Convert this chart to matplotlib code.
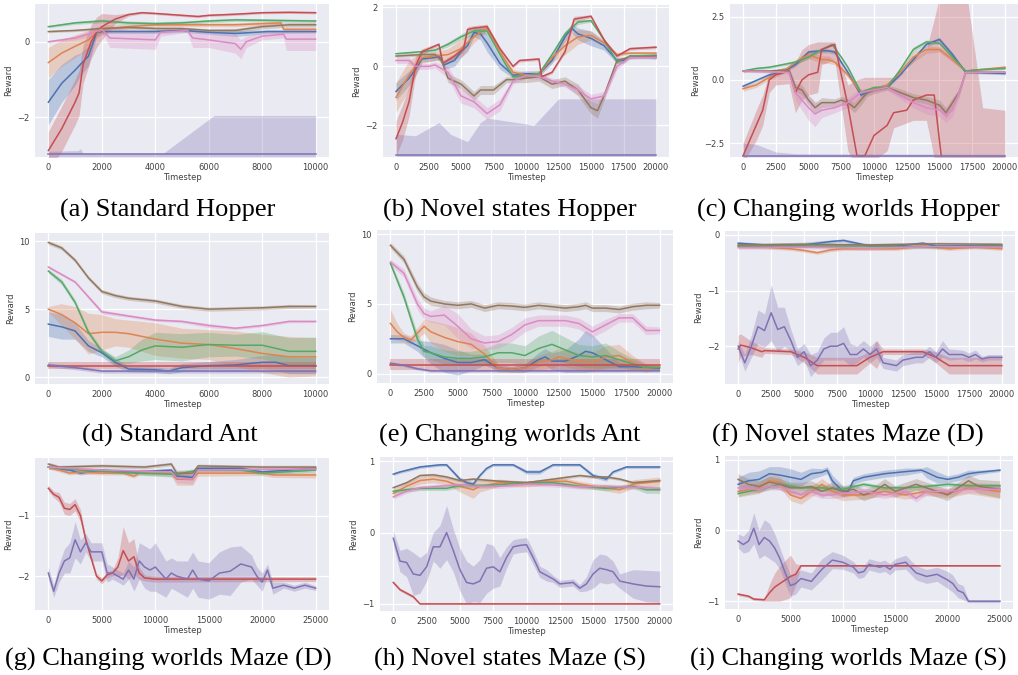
import numpy as np
import matplotlib
matplotlib.use("Agg")
from matplotlib import pyplot as plt

# seaborn "deep" colours: blue, orange, green, red, purple, brown, pink
colors = ["#4C72B0", "#DD8452", "#55A868", "#C44E52", "#8172B3", "#937860", "#DA8BC3"]

# every series: (timestep, reward, halfwidth) or (timestep, reward, down, up)

# ---- (a) Standard Hopper
a_blue = [(0, -1.6, 0.6), (500, -1.1, 0.5), (1000, -0.75, 0.4), (1200, -0.6, 0.3), (1500, -0.38, 0.25),
          (1800, 0.24, 0.1), (2000, 0.27, 0.05), (4000, 0.27, 0.05), (5000, 0.3, 0.05), (6000, 0.25, 0.05),
          (7000, 0.22, 0.08), (8200, 0.27, 0.05), (10000, 0.27, 0.04)]
a_orange = [(0, -0.55, 0.4), (500, -0.3, 0.35), (1000, -0.12, 0.3), (1500, 0.05, 0.25), (1800, 0.25, 0.15),
            (2200, 0.35, 0.1), (3000, 0.4, 0.06), (4000, 0.45, 0.05), (6000, 0.45, 0.05), (7000, 0.45, 0.05),
            (8000, 0.48, 0.05), (8700, 0.5, 0.05), (8800, 0.33, 0.03), (10000, 0.33, 0.03)]
a_green = [(0, 0.4, 0.03), (1000, 0.5, 0.04), (2000, 0.55, 0.05), (3000, 0.5, 0.05), (4000, 0.48, 0.05),
           (5000, 0.5, 0.05), (6000, 0.55, 0.04), (7000, 0.58, 0.04), (8000, 0.57, 0.04), (10000, 0.55, 0.04)]
a_red = [(0, -2.88, 0.5), (500, -2.3, 0.6), (1000, -1.6, 0.6), (1150, -1.35, 0.6), (1300, -0.6, 0.5),
         (1600, 0.0, 0.45), (1800, 0.25, 0.4), (2000, 0.4, 0.35), (2500, 0.6, 0.12), (3000, 0.72, 0.04),
         (3500, 0.77, 0.03), (4000, 0.75, 0.03), (5000, 0.7, 0.03), (5600, 0.67, 0.03), (6000, 0.7, 0.03),
         (7000, 0.73, 0.03), (8000, 0.77, 0.03), (9000, 0.78, 0.03), (10000, 0.77, 0.03)]
a_purple = [(0, -2.98, 0.07, 0.08), (1100, -2.98, 0.07, 0.1), (1200, -2.98, 0.07, 0.15), (1300, -2.98, 0.07, 0.03),
            (4300, -2.98, 0.07, 0.03), (6200, -2.98, 0.07, 1.03), (10000, -2.98, 0.07, 1.03)]
a_brown = [(0, 0.27, 0.03), (1000, 0.3, 0.03), (2000, 0.35, 0.04), (3000, 0.38, 0.04), (4000, 0.35, 0.05),
           (5000, 0.35, 0.04), (6000, 0.3, 0.04), (7000, 0.3, 0.05), (8000, 0.4, 0.06), (9000, 0.45, 0.06),
           (10000, 0.45, 0.06)]
a_pink = [(0, 0.0, 0.03), (1000, 0.1, 0.05), (1500, 0.2, 0.08), (2000, 0.33, 0.05), (2300, 0.1, 0.25),
          (3000, 0.08, 0.25), (4000, 0.05, 0.25), (4200, 0.25, 0.1), (5200, 0.3, 0.05), (5400, 0.1, 0.25),
          (6000, 0.05, 0.2), (7000, -0.05, 0.25), (7200, -0.2, 0.25), (7400, 0.0, 0.15), (8000, 0.15, 0.1),
          (8800, 0.2, 0.1), (8900, 0.07, 0.3), (10000, 0.07, 0.3)]

# ---- (b) Novel states Hopper
b_blue = [(0, -0.85, 0.3), (1000, -0.4, 0.25), (1500, -0.1, 0.2), (2000, 0.25, 0.1), (3000, 0.3, 0.1),
          (3300, 0.35, 0.1), (3700, 0.05, 0.15), (4500, 0.2, 0.2), (5000, 0.5, 0.2), (5500, 0.7, 0.2),
          (6000, 1.15, 0.15), (6500, 1.1, 0.2), (7000, 0.8, 0.3), (8000, 0.1, 0.2), (8500, -0.1, 0.15),
          (9000, -0.3, 0.1), (10000, -0.25, 0.1), (11000, -0.25, 0.1), (12000, 0.2, 0.1), (13000, 1.0, 0.15),
          (13500, 1.3, 0.15), (14000, 1.1, 0.2), (15000, 0.95, 0.25), (16000, 0.7, 0.15), (17000, 0.2, 0.1),
          (17500, 0.2, 0.1), (18000, 0.35, 0.05), (20000, 0.3, 0.05)]
b_orange = [(0, -1.05, 0.5), (1000, -0.3, 0.5), (1500, 0.0, 0.35), (2000, 0.3, 0.2), (3000, 0.35, 0.15),
            (4000, 0.4, 0.2), (5000, 0.6, 0.3), (6000, 1.0, 0.2), (7000, 1.3, 0.1), (8000, 0.5, 0.1),
            (9000, -0.2, 0.1), (10000, -0.3, 0.1), (11000, -0.25, 0.1), (12000, 0.3, 0.15), (13000, 0.7, 0.3),
            (14000, 1.0, 0.25), (15000, 1.05, 0.15), (16000, 0.8, 0.1), (17000, 0.4, 0.05), (18000, 0.45, 0.05),
            (20000, 0.45, 0.05)]
b_green = [(0, 0.43, 0.03), (2000, 0.5, 0.04), (3000, 0.55, 0.05), (4000, 0.75, 0.08), (5000, 1.0, 0.1),
           (6000, 1.2, 0.15), (7000, 1.2, 0.1), (8000, 0.4, 0.08), (9000, -0.35, 0.05), (10000, -0.3, 0.05),
           (11000, -0.25, 0.05), (12000, 0.4, 0.05), (13000, 1.1, 0.1), (14000, 1.5, 0.08), (15000, 1.55, 0.05),
           (16000, 0.9, 0.05), (17000, 0.15, 0.05), (17500, 0.25, 0.05), (18000, 0.35, 0.03), (20000, 0.38, 0.03)]
b_red = [(0, -2.45, 0.6), (500, -1.9, 0.6), (1000, -1.2, 0.5), (1500, 0.0, 0.3), (2000, 0.5, 0.1),
         (3300, 0.75, 0.05), (3600, 0.1, 0.1), (4500, 0.35, 0.1), (5200, 0.6, 0.1), (5500, 1.25, 0.1),
         (6000, 1.3, 0.08), (7000, 1.35, 0.08), (8000, 0.6, 0.05), (9000, 0.0, 0.05), (9500, 0.2, 0.05),
         (11000, 0.25, 0.05), (11200, -0.35, 0.05), (12000, -0.2, 0.05), (13000, 0.5, 0.05), (13700, 1.6, 0.1),
         (15000, 1.7, 0.05), (16000, 0.9, 0.05), (17000, 0.35, 0.05), (18000, 0.6, 0.05), (20000, 0.65, 0.05)]
b_purple = [(0, -3.0, 0.05, 0.7), (1500, -3.0, 0.05, 0.65), (3300, -3.0, 0.05, 1.1), (4200, -3.0, 0.05, 0.7),
            (4700, -3.0, 0.05, 0.6), (5500, -3.0, 0.05, 0.45), (6500, -3.0, 0.05, 1.1), (7000, -3.0, 0.05, 1.25),
            (10000, -3.0, 0.05, 1.05), (10600, -3.0, 0.05, 1.0), (12500, -3.0, 0.05, 1.9), (20000, -3.0, 0.05, 1.9)]
b_brown = [(0, 0.35, 0.05), (2000, 0.4, 0.05), (3000, 0.4, 0.08), (3500, 0.2, 0.1), (4000, -0.4, 0.15),
           (5000, -0.6, 0.15), (6000, -1.0, 0.15), (6500, -0.8, 0.15), (7500, -0.8, 0.15), (8500, -0.45, 0.1),
           (9000, -0.45, 0.1), (10000, -0.4, 0.15), (11000, -0.35, 0.15), (12000, -0.6, 0.15), (13000, -0.5, 0.15),
           (14000, -0.8, 0.2), (15000, -1.4, 0.2), (15500, -1.5, 0.25), (16000, -1.0, 0.15), (17000, 0.2, 0.1),
           (18000, 0.3, 0.05), (20000, 0.35, 0.05)]
b_pink = [(0, 0.2, 0.1), (1000, 0.2, 0.1), (1500, 0.0, 0.1), (2500, 0.0, 0.1), (3000, 0.05, 0.1),
          (4000, -0.2, 0.2), (5000, -1.0, 0.25), (6000, -1.2, 0.2), (7000, -1.6, 0.2), (8000, -1.3, 0.2),
          (9000, -0.5, 0.1), (10000, -0.3, 0.1), (11000, -0.35, 0.1), (12000, -0.5, 0.1), (13000, -0.6, 0.1),
          (14000, -0.8, 0.15), (15000, -1.1, 0.15), (16000, -1.0, 0.15), (17000, 0.0, 0.1), (18000, 0.3, 0.05),
          (20000, 0.3, 0.05)]

# ---- (c) Changing worlds Hopper
c_blue = [(0, -0.25, 0.05), (2000, 0.2, 0.05), (3000, 0.3, 0.05), (4000, 0.6, 0.08), (5000, 1.1, 0.08),
          (6000, 1.15, 0.08), (6500, 1.15, 0.08), (7000, 1.1, 0.08), (8000, 0.3, 0.08), (9000, -0.6, 0.08),
          (10000, -0.4, 0.05), (11000, -0.3, 0.05), (12000, 0.2, 0.05), (13000, 0.8, 0.08), (14000, 1.4, 0.1),
          (15000, 1.6, 0.08), (16000, 1.0, 0.08), (17000, 0.3, 0.05), (17500, 0.3, 0.05), (20000, 0.25, 0.05)]
c_orange = [(0, -0.35, 0.1), (1000, -0.2, 0.1), (2000, 0.1, 0.1), (3000, 0.3, 0.08), (4000, 0.7, 0.1),
            (5000, 1.0, 0.15), (6000, 0.8, 0.15), (6500, 0.8, 0.15), (7000, 0.7, 0.1), (8000, 0.2, 0.1),
            (9000, -0.5, 0.1), (10000, -0.35, 0.05), (11000, -0.2, 0.05), (12000, 0.3, 0.1), (13000, 0.9, 0.2),
            (14000, 1.2, 0.15), (15000, 1.2, 0.1), (16000, 0.8, 0.1), (17000, 0.35, 0.05), (18000, 0.4, 0.05),
            (20000, 0.5, 0.05)]
c_green = [(0, 0.35, 0.05), (1000, 0.45, 0.05), (2000, 0.5, 0.05), (3000, 0.6, 0.05), (4000, 0.7, 0.08),
           (5000, 0.9, 0.08), (6000, 1.2, 0.08), (6800, 1.4, 0.05), (7500, 0.9, 0.05), (8000, 0.5, 0.05),
           (9000, -0.5, 0.08), (10000, -0.3, 0.05), (11000, -0.3, 0.05), (12000, 0.4, 0.08), (13000, 1.2, 0.1),
           (14000, 1.5, 0.08), (15000, 1.45, 0.05), (16000, 0.9, 0.05), (17000, 0.35, 0.05), (18000, 0.4, 0.05),
           (20000, 0.45, 0.05)]
c_red = [(0, -3.0, 0.3, 0.5), (1000, -1.8, 0.6, 0.6), (1500, -1.2, 0.6, 0.6), (2000, 0.0, 0.5, 0.3),
         (2500, 0.2, 0.4, 0.2), (3500, 0.35, 0.5, 0.2), (4000, -0.5, 0.8, 1.2), (4500, 0.0, 0.8, 1.2),
         (5000, 0.2, 0.8, 1.2), (5700, 0.3, 0.8, 1.2), (6000, 1.2, 0.6, 0.3), (7000, 1.4, 0.6, 0.1),
         (8000, -1.0, 1.8, 0.8), (8700, -3.0, 0.5, 3.0), (9300, -3.0, 0.5, 3.1), (10000, -2.2, 1.0, 2.3),
         (11000, -1.8, 1.0, 1.9), (11500, -1.3, 0.6, 1.4), (12500, -1.2, 0.5, 1.6), (13000, -0.8, 0.8, 1.6),
         (14000, -0.6, 1.0, 1.8), (14600, -0.6, 2.5, 3.0), (15200, -3.3, 0.5, 7.0), (17000, -3.3, 0.5, 7.0),
         (18300, -3.3, 0.5, 2.2), (20000, -3.3, 0.5, 2.1)]
c_purple = [(0, -3.0, 0.05, 0.5), (1000, -3.0, 0.05, 0.45), (2500, -3.0, 0.05, 0.15), (4000, -3.0, 0.05, 0.08),
            (20000, -3.0, 0.05, 0.06)]
c_brown = [(0, 0.35, 0.05), (2000, 0.35, 0.05), (3500, 0.4, 0.1), (4000, -0.3, 0.15), (4500, -0.4, 0.2),
           (5000, -0.8, 0.2), (5500, -1.1, 0.2), (6000, -0.9, 0.2), (7000, -0.9, 0.15), (7500, -0.8, 0.15),
           (8000, -0.9, 0.15), (8500, -1.1, 0.2), (9000, -0.8, 0.2), (9500, -0.5, 0.15), (10000, -0.4, 0.15),
           (11000, -0.3, 0.1), (12000, -0.5, 0.15), (13000, -0.7, 0.15), (14000, -0.8, 0.15), (15000, -1.0, 0.2),
           (15500, -1.3, 0.2), (16000, -0.9, 0.2), (16500, -0.5, 0.15), (17000, 0.3, 0.05), (20000, 0.3, 0.05)]
c_pink = [(0, 0.35, 0.05), (3000, 0.3, 0.05), (3500, 0.3, 0.1), (4000, -0.5, 0.3), (5000, -1.1, 0.5),
          (5500, -1.35, 0.5), (6000, -1.2, 0.3), (7000, -1.1, 0.2), (8000, -0.9, 0.2), (8500, -0.7, 0.2),
          (9000, -0.5, 0.15), (10000, -0.4, 0.1), (11000, -0.3, 0.1), (12000, -0.6, 0.15), (13000, -0.9, 0.2),
          (14000, -1.1, 0.25), (15000, -1.2, 0.25), (15500, -1.4, 0.3), (16000, -1.2, 0.25), (16500, -0.5, 0.2),
          (17000, 0.3, 0.05), (20000, 0.3, 0.05)]

# ---- (d) Standard Ant
d_blue = [(0, 3.9, 0.9), (500, 3.7, 0.9), (1000, 3.4, 0.6), (1500, 2.3, 0.4), (2000, 1.8, 0.3),
          (2500, 1.1, 0.3), (3000, 0.6, 0.2), (4000, 0.55, 0.2), (4500, 0.45, 0.2), (5000, 0.7, 0.3),
          (6000, 0.85, 0.3), (7000, 0.9, 0.4), (8000, 1.1, 0.5), (8500, 1.1, 0.6), (9000, 0.85, 0.6),
          (10000, 0.85, 0.6)]
d_orange = [(0, 5.0, 0.2), (500, 4.6, 0.8), (1000, 4.0, 1.2), (1500, 3.2, 1.5), (2000, 3.3, 1.3),
            (2500, 3.3, 1.0), (3000, 3.2, 1.0), (4000, 2.8, 1.2), (5000, 2.5, 1.1), (6000, 2.4, 1.1),
            (7000, 2.1, 1.3), (8000, 1.75, 1.4), (9000, 1.5, 1.5), (10000, 1.5, 1.4)]
d_green = [(0, 7.8, 0.15), (500, 7.0, 0.2), (1000, 5.5, 0.2), (1500, 3.3, 0.2), (2000, 1.9, 0.2),
           (2500, 1.2, 0.3), (3000, 1.5, 0.5), (3500, 2.0, 0.8), (4000, 2.3, 1.0), (5000, 2.2, 1.0),
           (6000, 2.4, 0.9), (7000, 2.35, 0.8), (8000, 2.35, 1.0), (9000, 1.9, 1.0), (10000, 1.9, 1.05)]
d_red = [(0, 0.85, 0.25), (10000, 0.85, 0.25)]
d_purple = [(0, 0.9, 0.15), (1000, 0.7, 0.15), (2000, 0.45, 0.15), (10000, 0.45, 0.15)]
d_brown = [(0, 9.9, 0.15), (500, 9.5, 0.15), (1000, 8.6, 0.15), (1500, 7.3, 0.15), (2000, 6.3, 0.15),
           (2500, 6.0, 0.15), (3000, 5.8, 0.15), (4000, 5.6, 0.15), (5000, 5.2, 0.15), (6000, 5.0, 0.15),
           (7000, 5.05, 0.15), (8000, 5.1, 0.15), (9000, 5.2, 0.15), (10000, 5.2, 0.12)]
d_pink = [(0, 8.1, 0.1), (1000, 7.0, 0.1), (2000, 4.8, 0.15), (3000, 4.5, 0.1), (4000, 4.2, 0.1),
          (5000, 4.1, 0.1), (6000, 3.8, 0.15), (7000, 3.6, 0.1), (8000, 3.8, 0.1), (9000, 4.1, 0.1),
          (10000, 4.1, 0.08)]

# ---- (e) Changing worlds Ant
e_blue = [(0, 2.5, 0.3), (1000, 2.5, 0.3), (2000, 2.0, 0.4), (3000, 1.5, 0.8), (4000, 1.1, 1.0),
          (5000, 0.8, 0.9), (6000, 0.8, 0.6), (7000, 1.0, 0.4), (8000, 0.4, 0.2), (9000, 0.3, 0.2),
          (10000, 0.4, 0.3), (11000, 1.0, 0.5), (11500, 1.2, 0.6), (12000, 0.9, 0.6), (13000, 0.9, 0.8),
          (14000, 1.3, 1.2), (14500, 1.6, 1.5), (15000, 1.5, 1.3), (16000, 1.0, 0.8), (17000, 0.5, 0.3),
          (18000, 0.5, 0.2), (20000, 0.4, 0.15)]
e_orange = [(0, 3.6, 1.0), (500, 3.0, 0.6), (1000, 2.6, 0.3), (1500, 2.4, 0.3), (2000, 2.9, 0.4),
            (2500, 3.4, 0.5), (3000, 3.0, 0.8), (4000, 2.6, 1.0), (5000, 2.3, 1.0), (6000, 2.1, 0.8),
            (7000, 1.4, 0.6), (8000, 0.4, 0.3), (9000, 0.3, 0.2), (10000, 0.4, 0.3), (11000, 0.8, 0.5),
            (12000, 1.0, 0.6), (12500, 1.2, 0.6), (13000, 1.1, 0.6), (14000, 0.9, 0.6), (15000, 0.8, 0.7),
            (16000, 1.2, 0.8), (17000, 1.3, 0.8), (18000, 0.8, 0.5), (19000, 0.4, 0.3), (20000, 0.5, 0.2)]
e_green = [(0, 7.9, 0.2), (1000, 5.5, 0.3), (2000, 2.5, 0.4), (2500, 1.6, 0.4), (3000, 1.5, 0.5),
           (4000, 1.2, 0.5), (5000, 1.1, 0.5), (6000, 1.1, 0.5), (7000, 1.2, 0.6), (8000, 1.5, 0.7),
           (9000, 1.5, 0.7), (10000, 1.3, 0.7), (11000, 1.8, 0.9), (12000, 2.1, 1.0), (13000, 1.7, 0.9),
           (14000, 1.3, 0.8), (15000, 1.2, 0.8), (16000, 1.3, 0.9), (17000, 1.0, 0.6), (18000, 0.7, 0.4),
           (19000, 0.45, 0.2), (20000, 0.45, 0.15)]
e_red = [(0, 0.65, 0.4), (20000, 0.65, 0.4)]
e_purple = [(0, 0.75, 0.1), (1000, 0.6, 0.1), (2000, 0.35, 0.1), (3000, 0.2, 0.1), (20000, 0.2, 0.1)]
e_brown = [(0, 9.2, 0.2), (1000, 8.2, 0.25), (2000, 6.2, 0.3), (2500, 5.5, 0.3), (3000, 5.2, 0.3),
           (4000, 5.0, 0.25), (5000, 4.9, 0.25), (6000, 5.0, 0.25), (7000, 4.7, 0.25), (8000, 4.9, 0.25),
           (9000, 4.85, 0.25), (10000, 4.75, 0.25), (11000, 4.9, 0.25), (12000, 4.8, 0.25), (13000, 4.7, 0.25),
           (14000, 4.8, 0.25), (14500, 4.9, 0.25), (15000, 4.7, 0.25), (16000, 4.7, 0.25), (17000, 4.6, 0.25),
           (18000, 4.8, 0.25), (19000, 4.9, 0.25), (20000, 4.9, 0.2)]
e_pink = [(0, 8.0, 0.2), (1000, 7.2, 0.3), (2000, 5.0, 0.4), (2500, 4.3, 0.4), (3000, 4.1, 0.4),
          (4000, 4.2, 0.7), (5000, 3.4, 0.9), (6000, 2.5, 0.7), (7000, 2.2, 0.5), (8000, 2.3, 0.5),
          (9000, 2.8, 0.5), (10000, 3.5, 0.5), (11000, 3.8, 0.4), (12000, 3.8, 0.4), (13000, 3.8, 0.4),
          (14000, 3.6, 0.4), (15000, 3.0, 0.4), (16000, 3.5, 0.4), (17000, 4.0, 0.3), (18000, 4.0, 0.3),
          (19000, 3.1, 0.3), (20000, 3.1, 0.25)]

# ---- (f) Novel states Maze (D)
f_blue = [(0, -0.15, 0.03), (2000, -0.18, 0.03), (5000, -0.18, 0.05), (7000, -0.12, 0.03), (8000, -0.1, 0.03),
          (9000, -0.15, 0.03), (10000, -0.2, 0.03), (12000, -0.2, 0.03), (14000, -0.15, 0.03), (15000, -0.2, 0.03),
          (17000, -0.2, 0.03), (20000, -0.2, 0.03)]
f_orange = [(0, -0.2, 0.03), (2000, -0.22, 0.03), (4000, -0.25, 0.03), (5000, -0.28, 0.03), (6000, -0.32, 0.03),
            (7000, -0.27, 0.03), (8000, -0.25, 0.03), (12000, -0.25, 0.03), (14000, -0.2, 0.03),
            (16000, -0.25, 0.03), (18000, -0.22, 0.03), (20000, -0.25, 0.03)]
f_green = [(0, -0.2, 0.03), (5000, -0.2, 0.03), (10000, -0.2, 0.03), (15000, -0.22, 0.03), (20000, -0.2, 0.03)]
f_red = [(0, -2.05, 0.25), (200, -1.98, 0.2), (1000, -2.03, 0.12), (1800, -2.1, 0.1), (2000, -2.08, 0.05),
         (4000, -2.1, 0.05), (5000, -2.2, 0.1), (6000, -2.35, 0.15), (9000, -2.35, 0.15), (10000, -2.2, 0.1),
         (10500, -2.15, 0.25), (11000, -2.1, 0.05), (14000, -2.1, 0.05), (15000, -2.2, 0.1), (16000, -2.35, 0.15),
         (20000, -2.35, 0.15)]
f_purple = [(0, -2.0, 0.1), (500, -2.3, 0.15), (1000, -2.0, 0.2), (1500, -1.65, 0.3), (2000, -1.72, 0.3),
            (2500, -1.4, 0.5), (3000, -1.7, 0.4), (3500, -1.65, 0.35), (4000, -1.9, 0.2), (4500, -2.2, 0.15),
            (5000, -2.1, 0.15), (5500, -2.35, 0.2), (6000, -2.25, 0.15), (6500, -2.05, 0.2), (7000, -2.0, 0.25),
            (7500, -2.0, 0.25), (8000, -1.95, 0.3), (8500, -2.15, 0.2), (9000, -2.15, 0.15), (9500, -2.05, 0.15),
            (10000, -2.15, 0.15), (10500, -2.05, 0.15), (11000, -2.3, 0.1), (12000, -2.35, 0.1),
            (12500, -2.25, 0.1), (13500, -2.2, 0.1), (14000, -2.2, 0.1), (14500, -2.1, 0.1), (15000, -2.2, 0.1),
            (15500, -2.05, 0.15), (16000, -2.15, 0.1), (17000, -2.15, 0.08), (17500, -2.2, 0.08),
            (18000, -2.15, 0.08), (18500, -2.23, 0.05), (19000, -2.2, 0.05), (20000, -2.2, 0.05)]
f_brown = [(0, -0.18, 0.03), (5000, -0.17, 0.03), (10000, -0.18, 0.03), (15000, -0.16, 0.03), (20000, -0.17, 0.03)]
f_pink = [(0, -0.23, 0.03), (5000, -0.22, 0.03), (10000, -0.24, 0.03), (15000, -0.21, 0.03), (20000, -0.22, 0.03)]

# ---- (g) Changing worlds Maze (D)
g_blue = [(0, -0.2, 0.03), (2000, -0.25, 0.03), (3000, -0.3, 0.03), (5000, -0.25, 0.03), (8000, -0.28, 0.03),
          (11500, -0.25, 0.03), (12000, -0.35, 0.05), (13500, -0.37, 0.05), (14000, -0.22, 0.03),
          (18000, -0.22, 0.03), (20000, -0.28, 0.03), (25000, -0.22, 0.03)]
g_orange = [(0, -0.2, 0.03), (2000, -0.3, 0.03), (3000, -0.28, 0.03), (5000, -0.3, 0.03), (7000, -0.3, 0.03),
            (8000, -0.35, 0.03), (8500, -0.3, 0.03), (11500, -0.3, 0.05), (12000, -0.4, 0.1), (13500, -0.4, 0.1),
            (14000, -0.3, 0.05), (20000, -0.3, 0.04), (21000, -0.33, 0.04), (25000, -0.33, 0.05)]
g_green = [(0, -0.2, 0.03), (3000, -0.25, 0.03), (8000, -0.3, 0.03), (12000, -0.32, 0.05), (14000, -0.25, 0.03),
           (18000, -0.25, 0.03), (20000, -0.3, 0.03), (25000, -0.25, 0.03)]
g_red = [(0, -0.55, 0.05), (500, -0.65, 0.05), (1000, -0.7, 0.08), (1500, -0.88, 0.1), (2000, -0.9, 0.1),
         (2500, -0.82, 0.1), (3000, -1.0, 0.1), (3500, -1.4, 0.05), (4000, -1.7, 0.05), (4500, -2.0, 0.05),
         (5000, -2.08, 0.05), (5500, -1.98, 0.05), (6000, -1.95, 0.05), (6500, -1.85, 0.15), (7000, -1.58, 0.4),
         (7500, -1.75, 0.3), (8000, -1.68, 0.3), (8500, -1.95, 0.1), (9000, -2.03, 0.05), (10000, -2.05, 0.05),
         (25000, -2.05, 0.04)]
g_purple = [(0, -1.95, 0.1), (500, -2.25, 0.1), (1000, -1.95, 0.15), (1500, -1.75, 0.2), (2000, -1.7, 0.25),
            (2500, -1.4, 0.3), (3000, -1.6, 0.2), (3500, -1.45, 0.15), (4000, -1.6, 0.15), (5000, -1.6, 0.15),
            (5500, -1.95, 0.15), (6000, -1.95, 0.1), (7000, -2.05, 0.1), (7500, -1.9, 0.15), (8000, -2.05, 0.2),
            (8500, -1.75, 0.3), (9000, -1.85, 0.35), (9500, -1.9, 0.35), (10000, -1.85, 0.4), (11000, -2.05, 0.3),
            (11500, -1.95, 0.25), (12000, -2.0, 0.25), (13000, -2.05, 0.3), (13500, -1.9, 0.3), (14000, -2.05, 0.3),
            (15000, -2.08, 0.3), (16000, -1.95, 0.35), (17000, -1.92, 0.4), (18000, -1.8, 0.3), (19000, -1.85, 0.2),
            (19500, -2.0, 0.15), (20000, -2.1, 0.15), (20500, -1.9, 0.1), (21000, -2.2, 0.1), (22000, -2.15, 0.05),
            (23000, -2.2, 0.05), (24000, -2.15, 0.05), (25000, -2.2, 0.04)]
g_brown = [(0, -0.15, 0.03), (1000, -0.2, 0.03), (5000, -0.18, 0.03), (9000, -0.2, 0.03), (11500, -0.15, 0.03),
           (12000, -0.3, 0.05), (13500, -0.3, 0.05), (14000, -0.18, 0.03), (20000, -0.2, 0.03), (25000, -0.2, 0.03)]
g_pink = [(0, -0.2, 0.03), (5000, -0.25, 0.03), (11500, -0.28, 0.03), (12000, -0.38, 0.08), (13500, -0.4, 0.08),
          (14000, -0.25, 0.03), (25000, -0.23, 0.03)]

# ---- (h) Novel states Maze (S)
h_blue = [(0, 0.82, 0.02), (500, 0.85, 0.02), (2000, 0.92, 0.02), (3500, 0.95, 0.02), (4000, 0.95, 0.02),
          (5000, 0.75, 0.03), (5500, 0.7, 0.03), (6000, 0.68, 0.03), (6500, 0.8, 0.02), (7000, 0.9, 0.02),
          (7500, 0.95, 0.02), (9000, 0.95, 0.02), (10000, 0.85, 0.03), (11000, 0.85, 0.03), (11500, 0.9, 0.02),
          (12000, 0.95, 0.02), (14000, 0.95, 0.02), (15000, 0.8, 0.03), (16000, 0.75, 0.03), (16500, 0.85, 0.02),
          (17500, 0.92, 0.02), (20000, 0.92, 0.02)]
h_orange = [(0, 0.55, 0.05), (1000, 0.65, 0.05), (2000, 0.73, 0.05), (3000, 0.75, 0.05), (4000, 0.72, 0.05),
            (5000, 0.65, 0.08), (6000, 0.6, 0.12), (6500, 0.65, 0.08), (8000, 0.7, 0.05), (10000, 0.68, 0.04),
            (12000, 0.72, 0.04), (13000, 0.72, 0.04), (14000, 0.68, 0.04), (15000, 0.65, 0.04), (17000, 0.6, 0.05),
            (18000, 0.68, 0.06), (20000, 0.72, 0.06)]
h_green = [(0, 0.58, 0.03), (2000, 0.62, 0.03), (4000, 0.62, 0.03), (5000, 0.66, 0.03), (7000, 0.66, 0.03),
           (10000, 0.7, 0.03), (12000, 0.7, 0.03), (14000, 0.65, 0.03), (16000, 0.62, 0.03), (18000, 0.65, 0.03),
           (19000, 0.6, 0.05), (20000, 0.6, 0.05)]
h_red = [(0, -0.7, 0.02), (500, -0.8, 0.02), (1000, -0.85, 0.02), (1500, -0.9, 0.02), (2000, -1.0, 0.01),
         (20000, -1.0, 0.01)]
h_purple = [(0, -0.08, 0.1), (500, -0.4, 0.15), (1000, -0.42, 0.2), (1500, -0.58, 0.3), (2000, -0.6, 0.25),
            (2500, -0.48, 0.2), (3000, -0.2, 0.2), (3500, -0.2, 0.3), (4000, 0.0, 0.38), (4500, -0.25, 0.3),
            (5000, -0.52, 0.3), (5500, -0.7, 0.3), (6000, -0.72, 0.25), (6500, -0.68, 0.3), (7000, -0.5, 0.35),
            (7500, -0.48, 0.3), (8000, -0.55, 0.2), (8500, -0.35, 0.15), (9000, -0.2, 0.1), (9500, -0.18, 0.1),
            (10000, -0.17, 0.1), (10500, -0.35, 0.1), (11000, -0.55, 0.08), (11500, -0.6, 0.08), (12000, -0.65, 0.05),
            (12500, -0.72, 0.05), (13500, -0.7, 0.05), (14000, -0.78, 0.05), (14500, -0.72, 0.1), (15000, -0.58, 0.2),
            (15500, -0.5, 0.2), (16000, -0.52, 0.2), (16500, -0.55, 0.15), (17000, -0.68, 0.1),
            (17500, -0.7, 0.15), (18000, -0.72, 0.2), (19000, -0.75, 0.22), (20000, -0.76, 0.22)]
h_brown = [(0, 0.63, 0.02), (1000, 0.7, 0.02), (2000, 0.8, 0.02), (3000, 0.81, 0.02), (4000, 0.78, 0.02),
           (5000, 0.73, 0.02), (6000, 0.75, 0.02), (8000, 0.72, 0.02), (10000, 0.7, 0.02), (12000, 0.75, 0.02),
           (14000, 0.8, 0.02), (15000, 0.78, 0.02), (16000, 0.78, 0.02), (17000, 0.75, 0.02), (18000, 0.7, 0.02),
           (20000, 0.73, 0.02)]
h_pink = [(0, 0.5, 0.03), (1000, 0.58, 0.03), (2000, 0.63, 0.03), (5000, 0.67, 0.03), (6000, 0.65, 0.03),
          (8000, 0.65, 0.03), (10000, 0.68, 0.03), (12000, 0.67, 0.03), (14000, 0.64, 0.03), (16000, 0.65, 0.03),
          (20000, 0.62, 0.03)]

# ---- (i) Changing worlds Maze (S)
i_blue = [(0, 0.65, 0.1), (1000, 0.7, 0.12), (2000, 0.72, 0.12), (3000, 0.8, 0.1), (4000, 0.78, 0.12),
          (5000, 0.75, 0.12), (6000, 0.72, 0.1), (7000, 0.8, 0.08), (8000, 0.82, 0.05), (8500, 0.85, 0.05),
          (9000, 0.7, 0.08), (10000, 0.55, 0.08), (10500, 0.55, 0.05), (11000, 0.7, 0.05), (12000, 0.75, 0.05),
          (14000, 0.8, 0.05), (16000, 0.83, 0.05), (17500, 0.85, 0.03), (18000, 0.82, 0.08), (19000, 0.75, 0.08),
          (20000, 0.72, 0.05), (21000, 0.75, 0.05), (22000, 0.8, 0.05), (23000, 0.82, 0.03), (25000, 0.85, 0.02)]
i_orange = [(0, 0.55, 0.08), (2000, 0.6, 0.08), (3000, 0.7, 0.08), (4000, 0.68, 0.08), (5000, 0.5, 0.08),
            (6000, 0.45, 0.08), (7000, 0.55, 0.08), (8000, 0.65, 0.08), (9000, 0.55, 0.08), (10000, 0.5, 0.08),
            (12000, 0.5, 0.06), (14000, 0.55, 0.06), (16000, 0.5, 0.06), (18000, 0.55, 0.06), (20000, 0.52, 0.06),
            (22000, 0.6, 0.08), (25000, 0.55, 0.1)]
i_green = [(0, 0.52, 0.04), (2000, 0.58, 0.04), (4000, 0.65, 0.04), (6000, 0.6, 0.04), (8000, 0.6, 0.04),
           (10000, 0.58, 0.04), (12000, 0.65, 0.03), (14000, 0.6, 0.03), (16000, 0.6, 0.03), (18000, 0.62, 0.03),
           (20000, 0.65, 0.03), (22000, 0.63, 0.03), (25000, 0.63, 0.03)]
i_red = [(0, -0.9, 0.02), (1000, -0.93, 0.02), (1500, -0.97, 0.02), (2500, -0.98, 0.02), (3000, -0.88, 0.12),
         (3500, -0.8, 0.2), (4000, -0.75, 0.25), (5000, -0.65, 0.3), (5500, -0.62, 0.15), (6000, -0.5, 0.01),
         (25000, -0.5, 0.01)]
i_purple = [(0, -0.15, 0.1), (500, -0.2, 0.12), (1000, -0.15, 0.15), (1500, 0.03, 0.22), (2000, -0.2, 0.2),
            (2500, -0.1, 0.25), (3000, -0.15, 0.25), (3500, -0.25, 0.2), (4000, -0.4, 0.15), (4500, -0.6, 0.15),
            (5000, -0.78, 0.15), (5500, -0.75, 0.15), (6000, -0.68, 0.12), (7000, -0.72, 0.12), (8000, -0.55, 0.15),
            (9000, -0.42, 0.12), (10000, -0.45, 0.1), (11000, -0.52, 0.08), (11500, -0.6, 0.08), (12000, -0.58, 0.08),
            (12500, -0.48, 0.08), (13500, -0.52, 0.08), (14000, -0.5, 0.08), (14500, -0.55, 0.08), (15000, -0.48, 0.08),
            (16000, -0.45, 0.1), (17000, -0.6, 0.1), (18000, -0.65, 0.1), (19000, -0.62, 0.1), (20000, -0.7, 0.12),
            (20500, -0.75, 0.12), (21000, -0.85, 0.1), (21500, -0.88, 0.1), (22000, -1.0, 0.02), (25000, -1.0, 0.02)]
i_brown = [(0, 0.72, 0.08), (1000, 0.65, 0.08), (2000, 0.62, 0.08), (3000, 0.68, 0.08), (4000, 0.65, 0.08),
           (5000, 0.6, 0.08), (6000, 0.6, 0.08), (7000, 0.62, 0.08), (8000, 0.55, 0.08), (9000, 0.6, 0.08),
           (10000, 0.55, 0.08), (11000, 0.58, 0.08), (12000, 0.5, 0.08), (13000, 0.55, 0.08), (14000, 0.65, 0.08),
           (15000, 0.55, 0.08), (16000, 0.6, 0.08), (17000, 0.65, 0.08), (18000, 0.6, 0.08), (19000, 0.55, 0.08),
           (20000, 0.5, 0.08), (21000, 0.6, 0.08), (22000, 0.7, 0.08), (23000, 0.62, 0.1), (25000, 0.58, 0.12)]
i_pink = [(0, 0.6, 0.05), (2000, 0.58, 0.05), (3000, 0.62, 0.05), (4000, 0.62, 0.05), (5000, 0.55, 0.05),
          (6000, 0.5, 0.05), (7000, 0.55, 0.05), (8000, 0.5, 0.05), (9000, 0.5, 0.05), (10000, 0.52, 0.05),
          (12000, 0.55, 0.05), (14000, 0.5, 0.05), (16000, 0.55, 0.05), (17000, 0.45, 0.05), (18000, 0.55, 0.05),
          (20000, 0.55, 0.05), (22000, 0.58, 0.05), (25000, 0.58, 0.05)]

panels = [
    ("(a) Standard Hopper", [a_blue, a_orange, a_green, a_red, a_purple, a_brown, a_pink],
     (-500, 10500), (-3.05, 1.0), np.arange(0, 10001, 2000), [-2, 0], "{:.0f}"),
    ("(b) Novel states Hopper", [b_blue, b_orange, b_green, b_red, b_purple, b_brown, b_pink],
     (-1000, 21000), (-3.07, 2.08), np.arange(0, 20001, 2500), [-2, 0, 2], "{:.0f}"),
    ("(c) Changing worlds Hopper", [c_blue, c_orange, c_green, c_red, c_purple, c_brown, c_pink],
     (-1000, 21000), (-3.05, 3.0), np.arange(0, 20001, 2500), [-2.5, 0, 2.5], "{:.1f}"),
    ("(d) Standard Ant", [d_blue, d_orange, d_green, d_red, d_purple, d_brown, d_pink],
     (-500, 10500), (-0.5, 10.6), np.arange(0, 10001, 2000), [0, 5, 10], "{:.0f}"),
    ("(e) Changing worlds Ant", [e_blue, e_orange, e_green, e_red, e_purple, e_brown, e_pink],
     (-1000, 21000), (-0.67, 10.3), np.arange(0, 20001, 2500), [0, 5, 10], "{:.0f}"),
    ("(f) Novel states Maze (D)", [f_blue, f_orange, f_green, f_red, f_purple, f_brown, f_pink],
     (-1000, 21000), (-2.68, 0.07), np.arange(0, 20001, 2500), [-2, -1, 0], "{:.0f}"),
    ("(g) Changing worlds Maze (D)", [g_blue, g_orange, g_green, g_red, g_purple, g_brown, g_pink],
     (-1250, 26250), (-2.56, -0.05), np.arange(0, 25001, 5000), [-2, -1], "{:.0f}"),
    ("(h) Novel states Maze (S)", [h_blue, h_orange, h_green, h_red, h_purple, h_brown, h_pink],
     (-1000, 21000), (-1.1, 1.06), np.arange(0, 20001, 2500), [-1, 0, 1], "{:.0f}"),
    ("(i) Changing worlds Maze (S)", [i_blue, i_orange, i_green, i_red, i_purple, i_brown, i_pink],
     (-1250, 26250), (-1.11, 1.05), np.arange(0, 25001, 5000), [-1, 0, 1], "{:.0f}"),
]

# axes boxes in pixels: left, right, top, bottom
boxes = [(35, 329, 4, 157), (383, 669, 5, 157), (730, 1018, 4, 157),
         (35, 329, 233, 384), (377, 673, 230, 383), (725, 1015, 231, 384),
         (35, 329, 458, 610), (380, 673, 457, 611), (725, 1013, 456, 609)]
caption_pos = [(168, 210), (510, 210), (848, 210),
               (170, 435), (510, 435), (848, 435),
               (168, 659), (510, 659), (848, 659)]

W, H = 1018, 675
fig = plt.figure(figsize=(W / 100, H / 100), dpi=100)


def draw(ax, series, color):
    x = np.array([p[0] for p in series], float)
    y = np.array([p[1] for p in series], float)
    dn = np.array([p[2] for p in series], float)
    up = np.array([p[3] if len(p) > 3 else p[2] for p in series], float)
    ax.fill_between(x, y - dn, y + up, color=color, alpha=0.3, lw=0)
    ax.plot(x, y, color=color, lw=1.1)


for (title, series, xl, yl, xt, yt, fmt), (l, r, t, b), (cx, cy) in zip(panels, boxes, caption_pos):
    ax = fig.add_axes([l / W, 1 - b / H, (r - l) / W, (b - t) / H])
    ax.set_facecolor("#EAEAF2")
    for s in ax.spines.values():
        s.set_visible(False)
    ax.grid(True, color="white", lw=0.9)
    ax.set_axisbelow(True)
    for s, c in zip(series, colors):
        draw(ax, s, c)
    ax.set_xlim(*xl)
    ax.set_ylim(*yl)
    ax.set_xticks(xt)
    ax.set_yticks(yt)
    ax.set_yticklabels([fmt.format(v).replace("-", "\u2212") for v in yt])
    ax.tick_params(length=0, labelsize=6, colors=".25", pad=4)
    ax.set_xlabel("Timestep", fontsize=6, color=".25", labelpad=1)
    ax.set_ylabel("Reward", fontsize=6, color=".25", labelpad=3)
    fig.text(cx / W, 1 - cy / H, title, ha="center", va="center",
             family="Liberation Serif", size=19)

fig.savefig("out.png", dpi=100)
